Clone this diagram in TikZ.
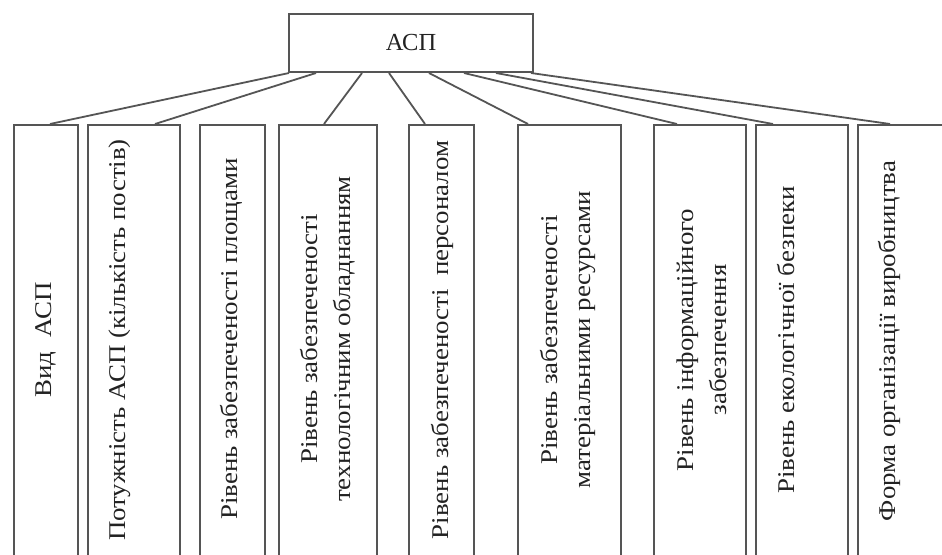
\documentclass[tikz,border=0pt]{standalone}
\usepackage{fontspec}
\usepackage{graphicx}
\setmainfont{Liberation Serif}
\definecolor{edge}{HTML}{555555}
\definecolor{ink}{HTML}{222222}
% text of a column, set along its length and stretched a little
\newcommand\coltext[1]{\scalebox{1.12}[1]{\begin{tabular}{@{}c@{}}#1\end{tabular}}}
\tikzset{
  rootbox/.style={draw=edge, line width=2pt, inner sep=0pt,
    minimum width=244pt, minimum height=58pt,
    font=\fontsize{24.5}{28}\selectfont, text=ink},
  colbox/.style={draw=edge, line width=2pt, inner sep=0pt,
    minimum height=450pt, anchor=north west},
  lbl/.style={rotate=90, inner sep=0pt, text=ink,
    font=\fontsize{24}{33}\selectfont},
  link/.style={draw=edge, line width=1.8pt},
}
\begin{document}
\begin{tikzpicture}[x=1pt, y=-1pt]
\useasboundingbox (0,0) rectangle (942,554);
\clip (0,0) rectangle (942,554);
\fill[white] (0,0) rectangle (942,554);

% root
\node[rootbox] (top) at (411,43) {АСП};

% columns
\node[colbox, minimum width=64pt]  (b1) at (13,124) {};
\node[colbox, minimum width=92pt]  (b2) at (87,124) {};
\node[colbox, minimum width=65pt]  (b3) at (199,124) {};
\node[colbox, minimum width=98pt]  (b4) at (278,124) {};
\node[colbox, minimum width=65pt]  (b5) at (408,124) {};
\node[colbox, minimum width=103pt] (b6) at (517,124) {};
\node[colbox, minimum width=92pt]  (b7) at (653,124) {};
\node[colbox, minimum width=92pt]  (b8) at (755,124) {};
\node[colbox, minimum width=110pt] (b9) at (857,124) {};

% labels
\node[lbl] (t1) at (45,340)  {\coltext{Вид\ \ АСП}};
\node[lbl] (t2) at (119,340) {\coltext{Потужність АСП (кількість постів)}};
\node[lbl] (t3) at (231,339) {\coltext{Рівень забезпеченості площами}};
\node[lbl] (t4) at (327,339) {\coltext{Рівень забезпеченості\\технологічним обладнанням}};
\node[lbl] (t5) at (442,340) {\coltext{Рівень забезпеченості\ \ персоналом}};
\node[lbl] (t6) at (567,340) {\coltext{Рівень забезпеченості\\матеріальними ресурсами}};
\node[lbl] (t7) at (703,340) {\coltext{Рівень інформаційного\\забезпечення}};
\node[lbl] (t8) at (788,340) {\coltext{Рівень екологічної безпеки}};
\node[lbl] (t9) at (889,341) {\coltext{Форма організації виробництва}};

% connectors
\draw[link] ([xshift=1pt]top.south west)   -- ([xshift=37pt]b1.north west);
\draw[link] ([xshift=28pt]top.south west)  -- ([xshift=68pt]b2.north west);
\draw[link] ([xshift=74pt]top.south west)  -- ([xshift=46pt]b4.north west);
\draw[link] ([xshift=101pt]top.south west) -- ([xshift=17pt]b5.north west);
\draw[link] ([xshift=141pt]top.south west) -- ([xshift=11pt]b6.north west);
\draw[link] ([xshift=176pt]top.south west) -- ([xshift=24pt]b7.north west);
\draw[link] ([xshift=208pt]top.south west) -- ([xshift=18pt]b8.north west);
\draw[link] ([xshift=-3pt]top.south east)  -- ([xshift=33pt]b9.north west);
\end{tikzpicture}
\end{document}
